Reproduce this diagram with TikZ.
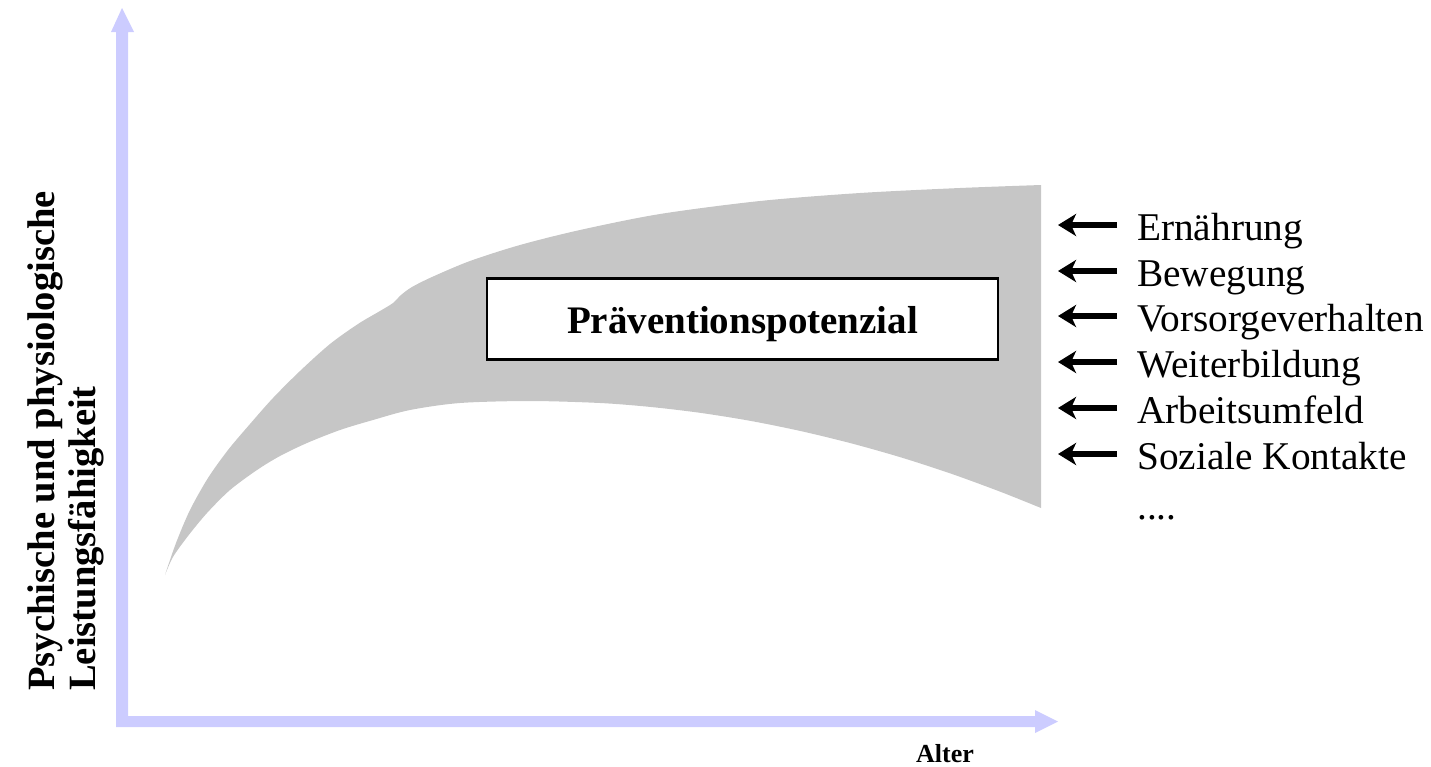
\documentclass[tikz,border=0pt]{standalone}
\usepackage{fontspec}
\setmainfont{Liberation Serif}
\usetikzlibrary{arrows.meta}
\definecolor{axiscol}{RGB}{204,204,255}
\definecolor{bandcol}{RGB}{198,198,198}
\tikzset{
  listtext/.style={anchor=base west,inner sep=0pt,font=\fontsize{39.3}{40}\selectfont},
  ylab/.style={anchor=base west,inner sep=0pt,rotate=90,font=\fontsize{38.6}{40}\selectfont\bfseries},
  larr/.style={line width=6pt,-{Stealth[length=18pt,width=22pt,inset=5pt]}},
}
\begin{document}
\begin{tikzpicture}[x=1pt,y=-1pt]
\useasboundingbox (0,0) rectangle (1431,766);
% axes
\fill[axiscol] (116,727) -- (116,32) -- (111,32) -- (122,8) -- (134,32) -- (128,32)
  -- (128,716) -- (1035,716) -- (1035,710) -- (1058,721.5) -- (1035,733) -- (1035,727) -- cycle;
% band
\fill[bandcol] plot[smooth,tension=0.5] coordinates {(165,575) (176,543) (190,510) (208,478) (228,450) (250,424) (273,398) (300,371) (330,344) (358,324) (380,311) (393,303) (401,295) (412,287) (432,277) (470,261) (520,245) (580,230) (660,214) (760,201) (860,193) (960,188) (1041,185)}
  -- (1041,508) -- plot[smooth,tension=0.5] coordinates {(1041,508) (1000,491.6) (950,473.3) (900,457.1) (850,443) (800,430.9) (750,420.8) (700,412.8) (650,406.9) (600,403) (530,401) (460,403) (410,410) (373,420) (340,430) (307,443) (280,456) (257,470) (230,490) (207,513) (188,536) (173,557) (165,575)} -- cycle;
% box
\node[draw,line width=2.2pt,fill=white,minimum width=511pt,minimum height=81pt,inner sep=0pt] (box) at (742.5,319) {};
\node[anchor=base,inner sep=0pt,font=\fontsize{39}{40}\selectfont\bfseries] (boxtext) at (742.5,333.5) {Präventionspotenzial};
% axis labels
\node[ylab] (yl1) at (54,691) {Psychische und physiologische};
\node[ylab] (yl2) at (95,691) {Leistungsfähigkeit};
\node[anchor=base,inner sep=0pt,font=\fontsize{26}{28}\selectfont\bfseries] (xl) at (945,762) {Alter};
% list
\node[listtext] (e1) at (1137,240) {Ernährung};
\node[listtext] (e2) at (1137,286) {Bewegung};
\node[listtext] (e3) at (1137,331) {Vorsorgeverhalten};
\node[listtext] (e4) at (1137,377) {Weiterbildung};
\node[listtext] (e5) at (1137,423) {Arbeitsumfeld};
\node[listtext] (e6) at (1137,469) {Soziale Kontakte};
\node[listtext] (e7) at (1137,519) {....};
\foreach \i in {1,...,6}{
  \coordinate (t\i) at ([shift={(-20,-15)}]e\i.base west);
  \coordinate (h\i) at ([shift={(-79,-15)}]e\i.base west);
  \draw[larr] (t\i) -- (h\i);
}
\end{tikzpicture}
\end{document}
